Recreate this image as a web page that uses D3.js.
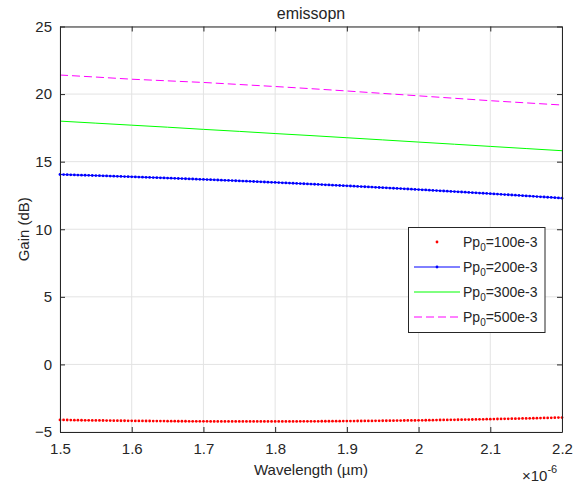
<!DOCTYPE html>
<html>
  <head>
    <meta charset="utf-8" />
    <title>emissopn</title>
    <style>
      body { margin: 0; background: #fff; font-family: 'Liberation Sans', Arial, sans-serif; }
      svg text { fill: #262626; }
      .axis path, .axis line { stroke: #262626; }
    </style>
    <script src="https://d3js.org/d3.v7.min.js"></script>
  </head>
  <body>
    <div id="chart"></div>
    <script>
      // wavelength samples (x 1e-6 m) for the dotted curves
      const wlDense = [
        1.500,1.505,1.510,1.515,1.520,1.525,1.530,1.535,1.540,1.545,1.550,1.555,1.560,1.565,1.570,1.575,1.580,1.585,1.590,1.595,
        1.600,1.605,1.610,1.615,1.620,1.625,1.630,1.635,1.640,1.645,1.650,1.655,1.660,1.665,1.670,1.675,1.680,1.685,1.690,1.695,
        1.700,1.705,1.710,1.715,1.720,1.725,1.730,1.735,1.740,1.745,1.750,1.755,1.760,1.765,1.770,1.775,1.780,1.785,1.790,1.795,
        1.800,1.805,1.810,1.815,1.820,1.825,1.830,1.835,1.840,1.845,1.850,1.855,1.860,1.865,1.870,1.875,1.880,1.885,1.890,1.895,
        1.900,1.905,1.910,1.915,1.920,1.925,1.930,1.935,1.940,1.945,1.950,1.955,1.960,1.965,1.970,1.975,1.980,1.985,1.990,1.995,
        2.000,2.005,2.010,2.015,2.020,2.025,2.030,2.035,2.040,2.045,2.050,2.055,2.060,2.065,2.070,2.075,2.080,2.085,2.090,2.095,
        2.100,2.105,2.110,2.115,2.120,2.125,2.130,2.135,2.140,2.145,2.150,2.155,2.160,2.165,2.170,2.175,2.180,2.185,2.190,2.195,
        2.200
      ];
      // Pp0 = 100e-3
      const gain100 = [
        -4.106,-4.110,-4.114,-4.118,-4.122,-4.126,-4.130,-4.133,-4.137,-4.141,-4.144,-4.147,-4.151,-4.154,-4.157,-4.160,-4.163,-4.166,-4.169,-4.172,
        -4.175,-4.177,-4.180,-4.182,-4.185,-4.187,-4.189,-4.191,-4.193,-4.195,-4.197,-4.199,-4.201,-4.203,-4.204,-4.206,-4.207,-4.209,-4.210,-4.211,
        -4.212,-4.213,-4.214,-4.215,-4.216,-4.217,-4.218,-4.218,-4.219,-4.219,-4.219,-4.220,-4.220,-4.220,-4.220,-4.220,-4.220,-4.220,-4.219,-4.219,
        -4.219,-4.218,-4.218,-4.217,-4.216,-4.215,-4.214,-4.213,-4.212,-4.211,-4.210,-4.209,-4.207,-4.206,-4.204,-4.203,-4.201,-4.199,-4.197,-4.195,
        -4.193,-4.191,-4.189,-4.187,-4.185,-4.182,-4.180,-4.177,-4.175,-4.172,-4.169,-4.166,-4.163,-4.160,-4.157,-4.154,-4.151,-4.147,-4.144,-4.141,
        -4.137,-4.133,-4.130,-4.126,-4.122,-4.118,-4.114,-4.110,-4.106,-4.101,-4.097,-4.092,-4.088,-4.083,-4.079,-4.074,-4.069,-4.064,-4.059,-4.054,
        -4.049,-4.044,-4.039,-4.033,-4.028,-4.022,-4.017,-4.011,-4.005,-3.999,-3.993,-3.987,-3.981,-3.975,-3.969,-3.962,-3.956,-3.950,-3.943,-3.936,
        -3.930
      ];
      // Pp0 = 200e-3
      const gain200 = [
        14.050,14.042,14.034,14.026,14.018,14.010,14.002,13.994,13.986,13.977,13.969,13.960,13.952,13.943,13.934,13.926,13.917,13.908,13.899,13.890,
        13.881,13.872,13.862,13.853,13.844,13.834,13.825,13.815,13.806,13.796,13.786,13.776,13.766,13.756,13.746,13.736,13.726,13.716,13.706,13.695,
        13.685,13.674,13.664,13.653,13.642,13.631,13.621,13.610,13.599,13.588,13.577,13.565,13.554,13.543,13.531,13.520,13.508,13.497,13.485,13.473,
        13.462,13.450,13.438,13.426,13.414,13.402,13.389,13.377,13.365,13.352,13.340,13.328,13.315,13.302,13.289,13.277,13.264,13.251,13.238,13.225,
        13.212,13.198,13.185,13.172,13.158,13.145,13.131,13.118,13.104,13.090,13.077,13.063,13.049,13.035,13.021,13.007,12.992,12.978,12.964,12.949,
        12.935,12.920,12.906,12.891,12.876,12.861,12.846,12.831,12.816,12.801,12.786,12.771,12.756,12.740,12.725,12.709,12.694,12.678,12.662,12.647,
        12.631,12.615,12.599,12.583,12.567,12.551,12.534,12.518,12.502,12.485,12.469,12.452,12.436,12.419,12.402,12.385,12.368,12.351,12.334,12.317,
        12.300
      ];
      // plain line series
      const wlLine = [1.50,1.55,1.60,1.65,1.70,1.75,1.80,1.85,1.90,1.95,2.00,2.05,2.10,2.15,2.20];
      const gain300 = [18.00,17.85,17.70,17.55,17.39,17.24,17.08,16.93,16.77,16.61,16.45,16.29,16.13,15.97,15.81];
      const gain500 = [21.41,21.26,21.10,20.98,20.86,20.71,20.56,20.40,20.23,20.05,19.87,19.69,19.51,19.35,19.19];

      const xTicks = [1.5,1.6,1.7,1.8,1.9,2.0,2.1,2.2];
      const yTicks = [-5,0,5,10,15,20,25];
      const legendLabels = ["100e-3","200e-3","300e-3","500e-3"];

      const W = 578, H = 486;
      const L = 60, R = 562, T = 26.5, B = 432;

      const svg = d3.select("#chart").append("svg")
        .attr("width", W).attr("height", H);

      const x = d3.scaleLinear().domain([1.5, 2.2]).range([L, R]);
      const y = d3.scaleLinear().domain([-5, 25]).range([B, T]);

      // grid
      const grid = svg.append("g").attr("stroke", "#e3e3e3").attr("stroke-width", 1);
      grid.selectAll(".gx").data(xTicks).enter().append("line")
        .attr("x1", d => x(d)).attr("x2", d => x(d)).attr("y1", T).attr("y2", B);
      grid.selectAll(".gy").data(yTicks).enter().append("line")
        .attr("y1", d => y(d)).attr("y2", d => y(d)).attr("x1", L).attr("x2", R);

      // curves
      const line = d3.line().x(d => x(d[0])).y(d => y(d[1]));
      const dense100 = wlDense.map((w, i) => [w, gain100[i]]);
      const dense200 = wlDense.map((w, i) => [w, gain200[i]]);

      svg.append("g").selectAll("circle").data(dense100).enter().append("circle")
        .attr("cx", d => x(d[0])).attr("cy", d => y(d[1])).attr("r", 1.4).attr("fill", "#ff0000");

      svg.append("path").datum(dense200).attr("d", line)
        .attr("fill", "none").attr("stroke", "#0000ff").attr("stroke-width", 1);
      svg.append("g").selectAll("circle").data(dense200).enter().append("circle")
        .attr("cx", d => x(d[0])).attr("cy", d => y(d[1])).attr("r", 1.4).attr("fill", "#0000ff");

      svg.append("path").datum(wlLine.map((w, i) => [w, gain300[i]])).attr("d", line)
        .attr("fill", "none").attr("stroke", "#00ff00").attr("stroke-width", 1);
      svg.append("path").datum(wlLine.map((w, i) => [w, gain500[i]])).attr("d", line)
        .attr("fill", "none").attr("stroke", "#ff00ff").attr("stroke-width", 1)
        .attr("stroke-dasharray", "8,4");

      // axes (box with inward ticks on all sides)
      const fs = 15;
      svg.append("g").attr("class", "axis").attr("transform", `translate(0,${B})`)
        .call(d3.axisBottom(x).tickValues(xTicks).tickFormat(d3.format("~g"))
          .tickSizeInner(-5).tickSizeOuter(0).tickPadding(11))
        .call(g => g.selectAll("text").attr("font-size", fs).attr("font-family", "'Liberation Sans', Arial"));
      svg.append("g").attr("class", "axis").attr("transform", `translate(${L},0)`)
        .call(d3.axisLeft(y).tickValues(yTicks).tickSizeInner(-5).tickSizeOuter(0).tickPadding(8))
        .call(g => g.selectAll("text").attr("font-size", fs).attr("font-family", "'Liberation Sans', Arial"));
      svg.append("g").attr("class", "axis").attr("transform", `translate(0,${T})`)
        .call(d3.axisTop(x).tickValues(xTicks).tickSizeInner(-5).tickSizeOuter(0).tickFormat(""));
      svg.append("g").attr("class", "axis").attr("transform", `translate(${R},0)`)
        .call(d3.axisRight(y).tickValues(yTicks).tickSizeInner(-5).tickSizeOuter(0).tickFormat(""));

      // labels
      svg.append("text").attr("x", (L + R) / 2).attr("y", 19).attr("text-anchor", "middle")
        .attr("font-size", 16).text("emissopn");
      svg.append("text").attr("x", (L + R) / 2).attr("y", 475).attr("text-anchor", "middle")
        .attr("font-size", fs).text("Wavelength (µm)");
      svg.append("text").attr("transform", `translate(29,${(T + B) / 2}) rotate(-90)`)
        .attr("text-anchor", "middle").attr("font-size", fs).text("Gain (dB)");
      const ex = svg.append("text").attr("x", 522).attr("y", 481).attr("font-size", fs);
      ex.append("tspan").text("×10");
      ex.append("tspan").attr("dy", -8).attr("font-size", 11).text("-6");

      // legend
      const lg = svg.append("g");
      lg.append("rect").attr("x", 408.5).attr("y", 227.5).attr("width", 136.5).attr("height", 105)
        .attr("fill", "#fff").attr("stroke", "#262626").attr("stroke-width", 1);
      const rows = [242, 267, 292, 317];
      const styles = [
        { stroke: null, dot: "#ff0000" },
        { stroke: "#0000ff", dot: "#0000ff" },
        { stroke: "#00ff00", dot: null },
        { stroke: "#ff00ff", dot: null, dash: "8,4" }
      ];
      legendLabels.forEach((lab, i) => {
        const yy = rows[i], s = styles[i];
        if (s.stroke) {
          lg.append("line").attr("x1", 414).attr("x2", 460).attr("y1", yy).attr("y2", yy)
            .attr("stroke", s.stroke).attr("stroke-width", 1)
            .attr("stroke-dasharray", s.dash || null);
        }
        if (s.dot) {
          lg.append("circle").attr("cx", 437).attr("cy", yy).attr("r", 1.4).attr("fill", s.dot);
        }
        const t = lg.append("text").attr("x", 463).attr("y", yy + 5).attr("font-size", 14);
        t.append("tspan").text("Pp");
        t.append("tspan").attr("dy", 4).attr("font-size", 10).text("0");
        t.append("tspan").attr("dy", -4).text("=" + lab);
      });
    </script>
  </body>
</html>
